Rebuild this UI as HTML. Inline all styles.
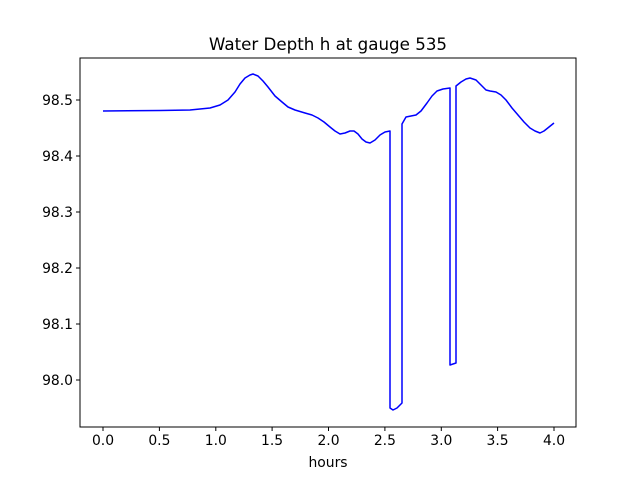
<!DOCTYPE html>
<html><head><meta charset="utf-8"><style>body{margin:0;background:#fff}</style></head><body>
<svg width="640" height="480" xmlns="http://www.w3.org/2000/svg" font-family="DejaVu Sans, Liberation Sans, sans-serif">
<rect width="640" height="480" fill="#fff"/>
<polyline fill="none" stroke="#0000ff" stroke-width="1.5" stroke-linejoin="round" points="103,111 160,110.5 190,110 210,108 220,105 228,100 235,92 240,84 245,78 250,75 253,74 258,76 263,81 268,87 275,96 282,102 288,107 295,110 305,113 312,115 318,118 324,122 330,127 335,131 340,134 345,133 350,131 354,131 358,134 362,139 366,142 370,143 375,140 380,135 385,132 390,131 390,408 393,410 397,408 402,403 402,124 406,117 411,116 416,115 421,111 427,103 432,96 437,91 443,89 450,88 450,365 456,363 456,86 461,82 466,79 470,78 476,80 481,85 486,90 490,91 496,92 501,95 506,100 512,108 518,115 524,122 530,128 535,131 540,133 544,131 549,127 554,123"/>
<rect x="80" y="58" width="496" height="369" fill="none" stroke="#000" stroke-width="1"/>
<g stroke="#000" stroke-width="1">
<line x1="103" y1="427" x2="103" y2="431"/><line x1="159.4" y1="427" x2="159.4" y2="431"/><line x1="215.8" y1="427" x2="215.8" y2="431"/><line x1="272.1" y1="427" x2="272.1" y2="431"/><line x1="328.5" y1="427" x2="328.5" y2="431"/><line x1="384.9" y1="427" x2="384.9" y2="431"/><line x1="441.3" y1="427" x2="441.3" y2="431"/><line x1="497.6" y1="427" x2="497.6" y2="431"/><line x1="554" y1="427" x2="554" y2="431"/>
<line x1="76" y1="100" x2="80" y2="100"/><line x1="76" y1="156" x2="80" y2="156"/><line x1="76" y1="212" x2="80" y2="212"/><line x1="76" y1="268" x2="80" y2="268"/><line x1="76" y1="324" x2="80" y2="324"/><line x1="76" y1="380" x2="80" y2="380"/>
</g>
<g font-size="13.9" text-anchor="middle" fill="#000">
<text x="103" y="445">0.0</text><text x="159.4" y="445">0.5</text><text x="215.8" y="445">1.0</text><text x="272.1" y="445">1.5</text><text x="328.5" y="445">2.0</text><text x="384.9" y="445">2.5</text><text x="441.3" y="445">3.0</text><text x="497.6" y="445">3.5</text><text x="554" y="445">4.0</text>
<text x="328" y="467">hours</text>
</g>
<g font-size="13.9" text-anchor="end" fill="#000">
<text x="73" y="105">98.5</text><text x="73" y="161">98.4</text><text x="73" y="217">98.3</text><text x="73" y="273">98.2</text><text x="73" y="329">98.1</text><text x="73" y="385">98.0</text>
</g>
<text x="328" y="50" font-size="16.7" text-anchor="middle">Water Depth h at gauge 535</text>
</svg>
</body></html>
